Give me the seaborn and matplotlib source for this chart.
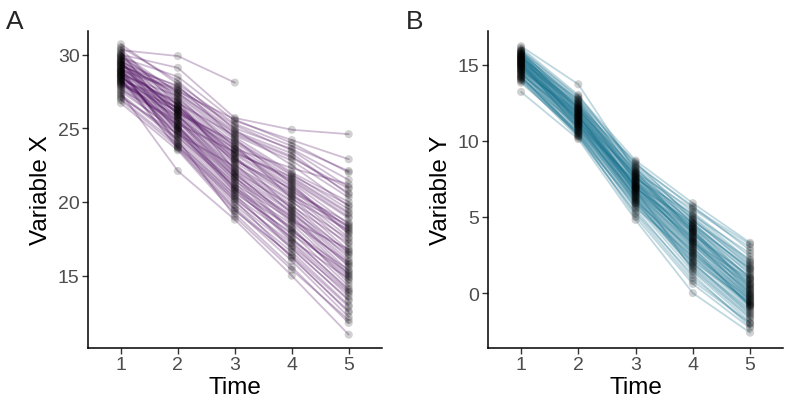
import numpy as np
import pandas as pd
import matplotlib
matplotlib.use("Agg")
import matplotlib.pyplot as plt
import seaborn as sns

nan = np.nan
times = [1, 2, 3, 4, 5]

# Panel A: Variable X, one entry per subject at each time
x_time1 = [30.3, 30.0, 29.8, 30.7, 29.5, 28.9, 30.1, 29.3, 28.6, 29.9, 28.2, 29.6, 28.8, 30.4, 28.4, 29.1, 27.9, 29.4, 28.7, 29.7,
           28.0, 29.2, 28.5, 27.6, 29.0, 28.3, 30.2, 28.1, 27.8, 29.5, 28.6, 27.3, 28.9, 27.0, 28.4, 26.7, 27.4, 29.8, 29.0, 28.8,
           29.3, 28.1, 29.9, 28.5, 27.7, 29.4, 28.2, 29.6, 28.7, 27.5, 29.1, 28.3, 27.2, 30.5, 29.2, 28.0, 29.7, 28.6, 27.9, 28.9,
           30.0, 28.4, 29.3, 27.1, 29.5, 28.8, 26.9, 28.2, 29.0, 28.6]
x_time2 = [29.9, 29.1, 28.5, 28.0, 27.8, 27.6, 27.4, 27.3, 27.2, 27.0, 26.9, 26.8, 26.6, 26.5, 26.4, 26.3, 26.2, 26.1, 26.0, 25.9,
           25.8, 25.7, 25.6, 25.5, 25.4, 25.2, 25.1, 25.0, 24.9, 24.7, 24.5, 24.3, 24.1, 23.9, 23.7, 23.5, 22.1, 27.5, 27.7, 26.7,
           26.0, 25.3, 26.2, 25.8, 24.6, 26.6, 25.5, 25.0, 24.4, 24.8, 23.8, 23.6, 24.2, 28.2, 27.9, 26.4, 26.9, 25.6, 25.2, 24.0,
           27.1, 26.1, 27.4, 24.6, 25.9, 26.3, 23.7, 25.1, 26.5, 24.9]
x_time3 = [28.1, 25.7, 25.5, 25.3, 25.0, 24.8, 24.6, 24.4, 24.2, 24.0, 23.8, 23.6, 23.5, 23.3, 23.2, 23.0, 22.9, 22.7, 22.5, 22.3,
           22.2, 22.0, 21.8, 21.6, 21.4, 21.2, 21.0, 20.8, 20.6, 20.4, 20.2, 20.0, 19.8, 19.6, 19.5, 19.2, 18.8, 25.6, 25.2, 24.5,
           24.1, 23.4, 23.9, 22.8, 22.4, 22.6, 21.7, 21.5, 21.1, 20.7, 20.3, 19.4, 19.0, 24.9, 24.3, 23.1, 22.1, 21.9, 20.9, 20.5,
           23.7, 23.6, 24.7, 21.3, 22.0, 22.9, 20.1, 21.7, 23.3, 20.9]
x_time4 = [nan, 24.9, 24.2, 23.8, 23.6, 23.3, 23.0, 22.0, 21.9, 21.6, 21.4, 21.3, 21.1, 21.0, 20.8, 20.6, 20.5, 20.3, 20.1, 19.8,
           19.6, 19.4, 19.3, 19.1, 19.0, 18.8, 18.5, 18.2, 17.9, 17.6, 17.2, 16.9, 16.6, 16.3, 16.0, 15.6, 15.0, 24.0, 23.5, 22.8,
           21.8, 21.5, 20.2, 20.9, 20.0, 19.2, 18.6, 18.0, 17.4, 17.8, 17.0, 16.4, 15.4, 22.5, 21.2, 19.5, 19.7, 18.9, 18.3, 16.8,
           20.7, 22.3, 23.1, 17.5, 18.7, 20.4, 16.2, 18.1, 21.7, 17.3]
x_time5 = [nan, 24.6, 22.9, 22.1, 21.5, 20.5, 20.9, 20.0, 19.5, 19.2, 18.9, 18.5, 18.2, 18.0, 17.9, 17.6, 17.3, 17.0, 16.7, 16.5,
           16.2, 16.0, 15.8, 15.6, 15.3, 15.1, 15.0, 14.7, 14.3, 14.0, 13.6, 13.3, 13.0, 12.5, 12.2, 11.8, 11.0, 22.0, 21.0, 20.3,
           19.8, 19.0, 18.1, 18.3, 17.5, 16.4, 15.9, 15.4, 14.8, 15.2, 13.8, 12.9, 12.0, 19.7, 17.8, 16.6, 17.2, 15.7, 14.5, 13.4,
           18.6, 21.2, 20.6, 14.1, 16.8, 18.4, 12.6, 14.9, 19.3, 13.9]

# Panel B: Variable Y
y_time1 = [16.2, 15.9, 15.7, 15.6, 15.8, 15.5, 15.3, 15.4, 15.2, 15.0, 14.9, 15.1, 14.8, 14.7, 15.6, 14.6, 15.3, 14.5, 15.0, 14.4,
           14.2, 15.2, 14.0, 13.8, 14.3, 13.2, 13.9, 14.1, 15.9, 15.7, 15.5, 15.1, 14.9, 15.4, 14.6, 15.8, 14.8, 15.0, 14.7, 15.3,
           14.5, 15.6, 14.2, 16.0, 15.2, 14.4, 15.9, 14.9, 15.4, 14.6, 15.1, 14.3, 15.5, 15.7, 14.8, 15.0, 14.1, 15.3, 15.8, 14.7,
           15.2, 14.5, 15.6, 14.0, 15.4, 14.9, 15.1, 16.1, 14.2, 15.5]
y_time2 = [13.7, 12.9, 12.7, 12.5, 12.4, 12.3, 12.2, 12.1, 12.0, 11.9, 11.8, 11.7, 11.6, 11.5, 11.4, 11.3, 11.2, 11.1, 11.0, 10.9,
           10.8, 10.7, 10.6, 10.5, 10.3, 10.1, 10.4, 10.6, 12.6, 12.0, 11.8, 12.2, 11.5, 11.3, 11.9, 11.6, 11.0, 11.4, 10.9, 11.7,
           10.7, 11.1, 10.5, 12.8, 12.4, 11.2, 12.1, 11.6, 11.8, 10.8, 11.3, 11.5, 12.3, 11.9, 11.4, 10.9, 11.0, 12.0, 12.5, 11.7,
           11.1, 10.4, 12.2, 10.2, 12.7, 11.2, 11.6, 13.0, 10.3, 12.1]
y_time3 = [8.0, 8.7, 8.5, 8.3, 8.2, 8.0, 7.9, 7.8, 7.7, 7.6, 7.5, 7.4, 7.3, 7.2, 7.1, 7.0, 6.9, 6.8, 6.7, 6.6,
           6.5, 6.3, 6.1, 5.9, 5.8, 4.8, 5.0, 5.5, 7.9, 8.1, 7.6, 7.4, 7.8, 7.2, 6.9, 7.0, 7.3, 6.6, 6.4, 6.2,
           6.0, 6.8, 5.7, 8.4, 7.5, 7.1, 7.7, 6.7, 6.5, 6.3, 7.0, 6.9, 7.3, 6.8, 6.2, 5.9, 6.4, 7.4, 7.6, 6.6,
           6.1, 5.6, 8.6, 5.3, 7.8, 6.0, 7.1, 8.2, 5.2, 6.9]
y_time4 = [4.0, 5.9, 5.6, 5.3, 5.0, 4.8, 4.6, 4.5, 4.3, 4.2, 4.1, 4.0, 3.9, 3.7, 3.6, 3.5, 3.4, 3.2, 3.0, 2.8,
           2.6, 2.4, 2.2, 2.0, 1.7, 0.0, 0.6, 1.0, 5.5, 5.1, 4.7, 4.4, 4.9, 3.8, 4.2, 3.3, 3.1, 2.9, 2.5, 2.3,
           1.9, 1.5, 1.4, 5.7, 5.2, 4.6, 3.9, 3.6, 2.7, 2.1, 3.4, 4.0, 4.3, 3.0, 2.0, 1.8, 2.6, 3.5, 4.4, 3.2,
           1.6, 2.4, 4.8, 1.2, 4.1, 2.8, 3.7, 4.5, 0.8, 3.3]
y_time5 = [1.0, 3.3, 3.2, 2.4, 2.0, 1.8, 1.5, 1.2, 1.0, 0.8, 0.6, 0.5, 0.3, 0.2, 0.0, -0.1, -0.3, -0.5, -0.6, -0.7,
           -0.8, -0.9, -1.0, -1.2, -1.5, -2.6, -2.3, -2.0, 3.0, 2.6, 2.2, 1.6, 1.9, 1.1, 0.4, 0.9, 0.1, -0.2, -0.4, -0.8,
           -1.1, -1.7, -1.9, 2.8, 2.1, 1.4, 0.7, 0.2, -0.3, -0.6, -0.1, 0.0, 1.3, -0.9, -1.4, -1.3, -0.5, -0.2, 0.9, 0.5,
           -1.6, -0.7, 1.7, -2.2, 0.3, -0.8, 0.6, 1.6, -2.0, -0.4]


def long_frame(cols):
    n = len(cols[0])
    rows = []
    for t, vals in zip(times, cols):
        for i in range(n):
            rows.append((i, t, vals[i]))
    return pd.DataFrame(rows, columns=["subject", "time", "value"])


dfx = long_frame([x_time1, x_time2, x_time3, x_time4, x_time5])
dfy = long_frame([y_time1, y_time2, y_time3, y_time4, y_time5])

sns.set_theme(style="white")
plt.rcParams["font.family"] = ["Liberation Sans", "DejaVu Sans"]

fig = plt.figure(figsize=(7.92, 4.10), dpi=100)
axA = fig.add_axes([0.111, 0.149, 0.371, 0.773])
axB = fig.add_axes([0.616, 0.149, 0.373, 0.773])

specs = [
    (axA, dfx, "#521464", "Variable X", (10.1, 31.6), [15, 20, 25, 30], "A"),
    (axB, dfy, "#1a7390", "Variable Y", (-3.6, 17.2), [0, 5, 10, 15], "B"),
]

for ax, df, col, ylab, ylim, yt, lab in specs:
    d = df.dropna()
    sns.lineplot(data=d, x="time", y="value", units="subject", estimator=None,
                 color=col, alpha=0.28, linewidth=1.3, ax=ax, legend=False)
    sns.scatterplot(data=d, x="time", y="value", color="black", alpha=0.18,
                    s=34, edgecolor="none", ax=ax, legend=False, zorder=3)
    ax.set_xlim(0.42, 5.58)
    ax.set_ylim(*ylim)
    ax.set_xticks(times)
    ax.set_yticks(yt)
    ax.set_xlabel("Time", fontsize=17.5, color="black", labelpad=2)
    ax.set_ylabel(ylab, fontsize=17.5, color="black", labelpad=4)
    ax.tick_params(axis="both", labelsize=14, labelcolor="#4d4d4d", length=4,
                   width=1, color="#333333", bottom=True, left=True, pad=2)
    for s in ["top", "right"]:
        ax.spines[s].set_visible(False)
    for s in ["left", "bottom"]:
        ax.spines[s].set_color("black")
        ax.spines[s].set_linewidth(1.1)
    ax.grid(False)

fig.text(0.008, 0.975, "A", fontsize=19, va="top", ha="left")
fig.text(0.513, 0.975, "B", fontsize=19, va="top", ha="left")

fig.savefig("out.png", dpi=100)
